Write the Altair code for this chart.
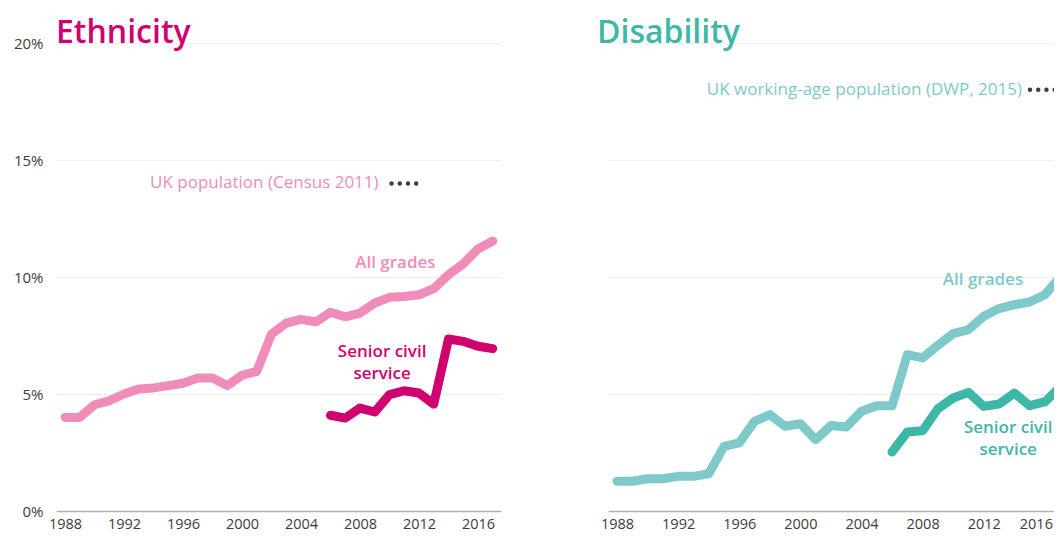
import altair as alt
import pandas as pd

# ---------------- data ----------------
years_all = list(range(1988, 2018))
years_scs = list(range(2006, 2018))

eth_all = [4.0, 4.0, 4.54, 4.71, 5.0, 5.21, 5.26, 5.36, 5.46, 5.68, 5.68, 5.36, 5.8, 5.97,
           7.56, 8.03, 8.19, 8.08, 8.49, 8.3, 8.46, 8.89, 9.13, 9.17, 9.24, 9.5, 10.1,
           10.56, 11.2, 11.54]
eth_scs = [4.09, 3.97, 4.4, 4.23, 4.97, 5.14, 5.04, 4.57, 7.35, 7.25, 7.04, 6.94]

dis_all = [1.27, 1.27, 1.38, 1.38, 1.48, 1.48, 1.59, 2.76, 2.91, 3.83, 4.12, 3.62, 3.73,
           3.05, 3.65, 3.59, 4.26, 4.5, 4.5, 6.68, 6.54, 7.08, 7.58, 7.75, 8.32, 8.65,
           8.82, 8.93, 9.24, 10.0]
dis_scs = [2.52, 3.38, 3.43, 4.37, 4.83, 5.07, 4.47, 4.57, 5.04, 4.5, 4.66, 5.29]

x_ticks = [1988, 1992, 1996, 2000, 2004, 2008, 2012, 2016]
y_ticks = [0, 5, 10, 15, 20]

eth_pop_text = "UK population (Census 2011)"
eth_pop = {"value": 14.0, "text_x": 2009.26, "dot_x1": 2010.14, "dot_x2": 2011.83}
dis_pop_text = "UK working-age population (DWP, 2015)"
dis_pop = {"value": 18.0, "text_x": 2014.5, "dot_x1": 2015.03, "dot_x2": 2016.8}

eth_labels = [
    {"year": 2010.4, "value": 10.6, "label": "All grades", "series": "all"},
    {"year": 2009.5, "value": 6.8, "label": "Senior civil\nservice", "series": "scs"},
]
dis_labels = [
    {"year": 2011.95, "value": 9.87, "label": "All grades", "series": "all"},
    {"year": 2013.6, "value": 3.55, "label": "Senior civil\nservice", "series": "scs"},
]

FONT = "Open Sans"
DOT = "#3a3f4a"


def panel(title, title_color, all_vals, scs_vals, c_all, c_scs, labels, pop_text, pop,
          domain, width, show_y, title_dx, title_offset, last_label_shift):
    df_all = pd.DataFrame({"year": years_all, "value": all_vals})
    df_scs = pd.DataFrame({"year": years_scs, "value": scs_vals})
    df_lab = pd.DataFrame(labels)
    df_pop = pd.DataFrame([pop])
    df_pop["text"] = pop_text

    xs = alt.Scale(domain=domain, nice=False, zero=False)
    ys = alt.Scale(domain=[0, 20], nice=False)
    xaxis_kw = dict(values=x_ticks, format="d", grid=False, ticks=False, domain=True,
                    domainColor="#b0b0b0", domainWidth=1.5, labelFont=FONT,
                    labelFontSize=14.5, labelColor="#3d3d3d", labelPadding=6,
                    title=None, labelFlush=False)
    if last_label_shift:
        xaxis_kw["labelOffset"] = {"condition": {"test": "datum.value == 2016",
                                                 "value": last_label_shift}, "value": 0}
    xaxis = alt.Axis(**xaxis_kw)
    if show_y:
        yaxis = alt.Axis(values=y_ticks, labelExpr="datum.value + '%'", grid=True,
                         gridColor="#efefef", gridWidth=1, domain=False, ticks=False,
                         labelFont=FONT, labelFontSize=15, labelColor="#3d3d3d",
                         labelPadding=13, title=None, minExtent=43, maxExtent=43)
    else:
        yaxis = alt.Axis(values=y_ticks, labels=False, grid=True, gridColor="#efefef",
                         gridWidth=1, domain=False, ticks=False, title=None,
                         minExtent=0, maxExtent=0)

    line_all = alt.Chart(df_all).mark_line(
        strokeWidth=9, strokeCap="round", strokeJoin="round", color=c_all, clip=True
    ).encode(x=alt.X("year:Q", scale=xs, axis=xaxis), y=alt.Y("value:Q", scale=ys, axis=yaxis))

    line_scs = alt.Chart(df_scs).mark_line(
        strokeWidth=9, strokeCap="round", strokeJoin="round", color=c_scs, clip=True
    ).encode(x=alt.X("year:Q", scale=xs), y=alt.Y("value:Q", scale=ys))

    lab_all = alt.Chart(df_lab[df_lab.series == "all"]).mark_text(
        font=FONT, fontSize=17, fontWeight=600, color=c_all, align="center",
        baseline="middle", clip=True
    ).encode(x=alt.X("year:Q", scale=xs), y=alt.Y("value:Q", scale=ys), text="label:N")

    lab_scs = alt.Chart(df_lab[df_lab.series == "scs"]).mark_text(
        font=FONT, fontSize=17, fontWeight=600, color=c_scs, align="center",
        baseline="middle", lineBreak="\n", lineHeight=22, clip=True
    ).encode(x=alt.X("year:Q", scale=xs), y=alt.Y("value:Q", scale=ys), text="label:N")

    pop_txt = alt.Chart(df_pop).mark_text(
        font=FONT, fontSize=17, color=c_all, align="right", baseline="middle", clip=True
    ).encode(x=alt.X("text_x:Q", scale=xs), y=alt.Y("value:Q", scale=ys), text="text:N")

    pop_dots = alt.Chart(df_pop).mark_rule(
        color=DOT, strokeWidth=4.5, strokeCap="round", strokeDash=[0.01, 8.2], clip=True
    ).encode(x=alt.X("dot_x1:Q", scale=xs), x2="dot_x2:Q", y=alt.Y("value:Q", scale=ys))

    return alt.layer(line_all, line_scs, lab_all, lab_scs, pop_txt, pop_dots).properties(
        width=width, height=468,
        title=alt.TitleParams(text=title, anchor="start", font=FONT, fontSize=32,
                              fontWeight=600, color=title_color, baseline="alphabetic",
                              frame="group", offset=title_offset, dx=title_dx),
    )


left = panel("Ethnicity", "#d1006f", eth_all, eth_scs, "#f08cb9", "#d1006f", eth_labels,
             eth_pop_text, eth_pop, [1987.39, 2017.56], 445, True, 0, -39, 0)
right = panel("Disability", "#3db8a6", dis_all, dis_scs, "#7ecacb", "#3db8a6", dis_labels,
              dis_pop_text, dis_pop, [1987.41, 2016.6], 446, False, -11, -32, -9)

chart = alt.hconcat(left, right, spacing=107, bounds="flush").configure_view(
    stroke=None
).properties(
    padding={"left": 5, "top": 9, "right": 0, "bottom": 0},
    background="white",
)

chart.save("out.html", embed_options={"renderer": "svg", "actions": False})
